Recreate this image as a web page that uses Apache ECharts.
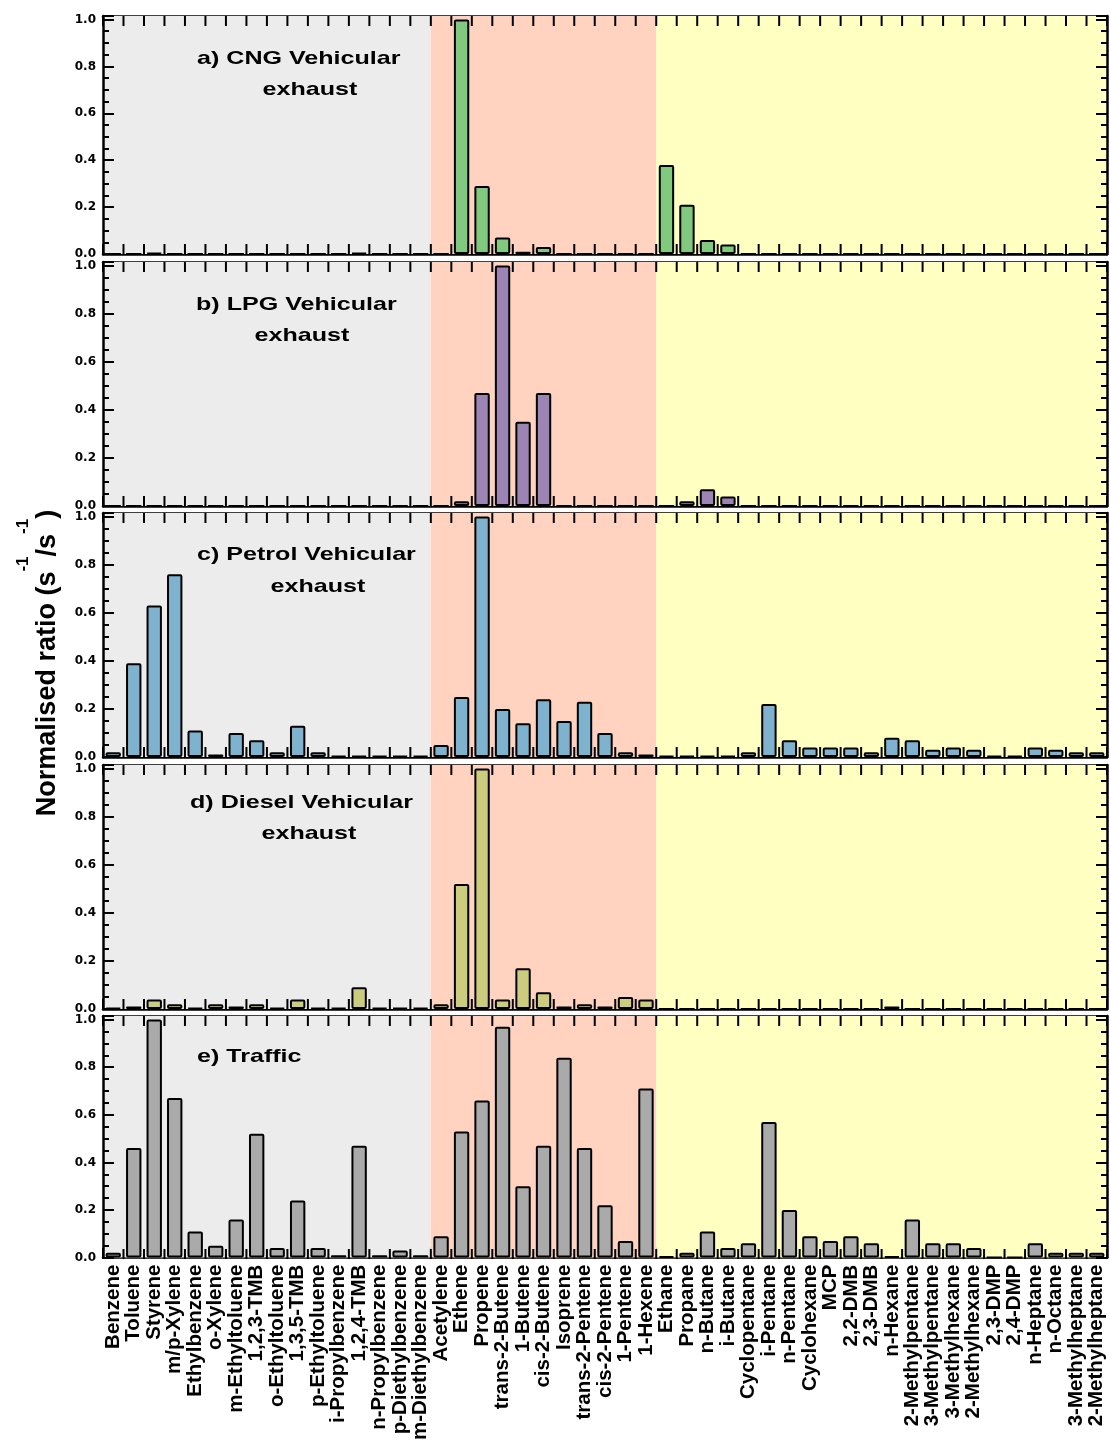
<!DOCTYPE html>
<html>
<head>
<meta charset="utf-8">
<script src="https://cdn.jsdelivr.net/npm/echarts@6/dist/echarts.min.js"></script>
<style>
  html, body { margin: 0; padding: 0; background: #fff; }
  #chart { width: 1110px; height: 1443px; }
</style>
</head>
<body>
<div id="chart"></div>
<script>
// species, grouped: aromatics | alkenes + alkyne | alkanes
var categories = [
  'Benzene', 'Toluene', 'Styrene', 'm/p-Xylene', 'Ethylbenzene', 'o-Xylene', 'm-Ethyltoluene',
  '1,2,3-TMB', 'o-Ethyltoluene', '1,3,5-TMB', 'p-Ethyltoluene', 'i-Propylbenzene', '1,2,4-TMB',
  'n-Propylbenzene', 'p-Diethylbenzene', 'm-Diethylbenzene',
  'Acetylene', 'Ethene', 'Propene', 'trans-2-Butene', '1-Butene', 'cis-2-Butene', 'Isoprene',
  'trans-2-Pentene', 'cis-2-Pentene', '1-Pentene', '1-Hexene',
  'Ethane', 'Propane', 'n-Butane', 'i-Butane', 'Cyclopentane', 'i-Pentane', 'n-Pentane',
  'Cyclohexane', 'MCP', '2,2-DMB', '2,3-DMB', 'n-Hexane', '2-Methylpentane', '3-Methylpentane',
  '3-Methylhexane', '2-Methylhexane', '2,3-DMP', '2,4-DMP', 'n-Heptane', 'n-Octane',
  '3-Methylheptane', '2-Methylheptane'
];

var cngValues = [
  0, 0, 0.005, 0, 0, 0, 0, 0, 0, 0, 0, 0, 0.005, 0, 0, 0,
  0, 1.0, 0.29, 0.07, 0.01, 0.03, 0, 0, 0, 0, 0,
  0.38, 0.21, 0.06, 0.04, 0, 0, 0, 0, 0, 0, 0, 0, 0, 0, 0, 0, 0, 0, 0, 0, 0, 0
];
var lpgValues = [
  0, 0, 0, 0, 0, 0, 0, 0, 0, 0, 0, 0, 0, 0, 0, 0,
  0, 0.02, 0.47, 1.0, 0.35, 0.47, 0, 0, 0, 0, 0,
  0, 0.02, 0.07, 0.04, 0, 0, 0, 0, 0, 0, 0, 0, 0, 0, 0, 0, 0, 0, 0, 0, 0, 0
];
var petrolValues = [
  0.02, 0.39, 0.63, 0.76, 0.11, 0.01, 0.10, 0.07, 0.02, 0.13, 0.02, 0.005, 0.005, 0.005, 0.005, 0.005,
  0.05, 0.25, 1.0, 0.20, 0.14, 0.24, 0.15, 0.23, 0.10, 0.02, 0.01,
  0.005, 0.005, 0.005, 0.005, 0.02, 0.22, 0.07, 0.04, 0.04, 0.04, 0.02, 0.08, 0.07, 0.03,
  0.04, 0.03, 0.005, 0.005, 0.04, 0.03, 0.02, 0.02
];
var dieselValues = [
  0.005, 0.01, 0.04, 0.02, 0.005, 0.02, 0.01, 0.02, 0.005, 0.04, 0.005, 0.005, 0.09, 0.005, 0.005, 0.005,
  0.02, 0.52, 1.0, 0.04, 0.17, 0.07, 0.01, 0.02, 0.01, 0.05, 0.04,
  0, 0, 0, 0, 0, 0, 0, 0, 0, 0, 0, 0.01, 0, 0, 0, 0, 0, 0, 0, 0, 0, 0
];
var trafficValues = [
  0.02, 0.46, 1.0, 0.67, 0.11, 0.05, 0.16, 0.52, 0.04, 0.24, 0.04, 0.01, 0.47, 0.01, 0.03, 0.01,
  0.09, 0.53, 0.66, 0.97, 0.30, 0.47, 0.84, 0.46, 0.22, 0.07, 0.71,
  0.005, 0.02, 0.11, 0.04, 0.06, 0.57, 0.20, 0.09, 0.07, 0.09, 0.06, 0.005, 0.16, 0.06,
  0.06, 0.04, 0, 0, 0.06, 0.02, 0.02, 0.02
];

var panelTitles = [
  ['a) CNG Vehicular', 'exhaust'],
  ['b) LPG Vehicular', 'exhaust'],
  ['c) Petrol Vehicular', 'exhaust'],
  ['d) Diesel Vehicular', 'exhaust'],
  ['e) Traffic', '']
];
var groupBounds = [0, 16, 27, 49];   // category index where each group starts / ends

// styling / layout
var FONT = '"Liberation Sans", Arial, sans-serif';
var WIDE_FONT = '"DejaVu Sans", sans-serif';
var panelValues = [cngValues, lpgValues, petrolValues, dieselValues, trafficValues];
var panelColors = ['#80c97e', '#9c84b5', '#7fb2cf', '#cccc7e', '#aaaaaa'];
var groupColors = ['#ececec', '#ffd3c0', '#ffffc1'];
var panelTop = [16, 262, 513, 765, 1016];
var panelHeight = [238, 244, 244, 244, 243];
var titlePos = [[197, 59, 310, 90], [196, 305, 302, 336], [197, 555, 318, 587], [190, 803, 309, 834], [197, 1057, 0, 0]];
var PLOT_LEFT = 103, PLOT_WIDTH = 1004, Y_MAX = 1.015;
var TITLE_STRETCH = 1.32;
var X_TICK_LEN = 10;

var chart = echarts.init(document.getElementById('chart'));
var option = {
  animation: false,
  backgroundColor: '#fff',
  textStyle: { fontFamily: FONT },
  grid: [], xAxis: [], yAxis: [], series: [], graphic: []
};

var lineStyle = { color: '#000', width: 2.5 };
var tickStyle = { color: '#000', width: 2 };

panelValues.forEach(function (values, i) {
  var last = i === panelValues.length - 1;
  option.grid.push({ left: PLOT_LEFT, width: PLOT_WIDTH, top: panelTop[i], height: panelHeight[i] });

  // category axes: frame line, boundary ticks, species labels
  ['bottom', 'top'].forEach(function (pos) {
    option.xAxis.push({
      type: 'category', gridIndex: i, position: pos, data: categories,
      axisLine: { show: true, onZero: false, lineStyle: lineStyle },
      axisTick: { show: true, interval: 0, inside: true, length: X_TICK_LEN, lineStyle: tickStyle },
      axisLabel: (last && pos === 'bottom') ? {
        interval: 0, rotate: 90, margin: 7, color: '#000',
        fontSize: 20.5, fontWeight: 'bold', fontFamily: FONT
      } : { show: false }
    });
  });
  // hidden index axis (0..n) for the group bands
  option.xAxis.push({ type: 'value', gridIndex: i, min: 0, max: categories.length, show: false });

  ['left', 'right'].forEach(function (side) {
    option.yAxis.push({
      type: 'value', gridIndex: i, position: side, min: 0, max: Y_MAX, interval: 0.2, z: 5,
      axisLine: { show: true, lineStyle: lineStyle },
      axisTick: { show: true, inside: true, length: 11, lineStyle: tickStyle },
      splitLine: { show: false },
      axisLabel: side === 'left' ? {
        margin: 7, color: '#000', fontSize: 12, fontWeight: 'bold', fontFamily: WIDE_FONT,
        formatter: function (v) { return v > 1.0001 ? '' : v.toFixed(1); }
      } : { show: false }
    });
    option.yAxis.push({
      type: 'value', gridIndex: i, position: side, min: 0, max: Y_MAX, interval: 0.05, z: 5,
      axisLine: { show: false },
      axisTick: { show: true, inside: true, length: 6, lineStyle: tickStyle },
      splitLine: { show: false },
      axisLabel: { show: false }
    });
  });

  option.series.push({
    type: 'line', xAxisIndex: 3 * i + 2, yAxisIndex: 4 * i, data: [], z: 1, silent: true,
    markArea: {
      silent: true,
      data: groupColors.map(function (c, k) {
        return [{ xAxis: groupBounds[k], itemStyle: { color: c } }, { xAxis: groupBounds[k + 1] }];
      })
    }
  });
  option.series.push({
    type: 'bar', xAxisIndex: 3 * i, yAxisIndex: 4 * i, data: values, z: 3,
    barWidth: '75%', silent: true,
    itemStyle: { color: panelColors[i], borderColor: '#000', borderWidth: 2, borderRadius: 1 }
  });

  // inward frame ticks at the category band edges (grid left + k * band width)
  var step = PLOT_WIDTH / categories.length;
  var yTop = panelTop[i], yBottom = panelTop[i] + panelHeight[i];
  for (var k = 0; k <= categories.length; k++) {
    var x = PLOT_LEFT + k * step;
    option.graphic.push({
      type: 'line', z: 20,
      shape: { x1: x, y1: yBottom, x2: x, y2: yBottom - X_TICK_LEN },
      style: { stroke: '#000', lineWidth: 2 }
    });
    option.graphic.push({
      type: 'line', z: 20,
      shape: { x1: x, y1: yTop, x2: x, y2: yTop + X_TICK_LEN },
      style: { stroke: '#000', lineWidth: 2 }
    });
  }

  var t = titlePos[i];
  option.graphic.push({
    type: 'text', x: t[0], y: t[1], scaleX: TITLE_STRETCH, z: 10,
    style: { text: panelTitles[i][0], fill: '#000', font: 'bold 19px ' + FONT, align: 'left', verticalAlign: 'middle' }
  });
  if (panelTitles[i][1]) {
    option.graphic.push({
      type: 'text', x: t[2], y: t[3], scaleX: TITLE_STRETCH, z: 10,
      style: { text: panelTitles[i][1], fill: '#000', font: 'bold 19px ' + FONT, align: 'center', verticalAlign: 'middle' }
    });
  }
});

// y axis title with superscripts
option.graphic.push({
  type: 'text', x: 38, y: 663, rotation: Math.PI / 2, z: 10,
  style: {
    text: '{b|Normalised ratio (s}{s|-1}{b|/s}{s|-1}{b|)}',
    align: 'center', verticalAlign: 'middle',
    rich: {
      b: { fontSize: 27, fontWeight: 'bold', fontFamily: FONT, fill: '#000', lineHeight: 46, verticalAlign: 'bottom' },
      s: { fontSize: 17, fontWeight: 'bold', fontFamily: FONT, fill: '#000', lineHeight: 46, verticalAlign: 'top' }
    }
  }
});

chart.setOption(option);
</script>
</body>
</html>
